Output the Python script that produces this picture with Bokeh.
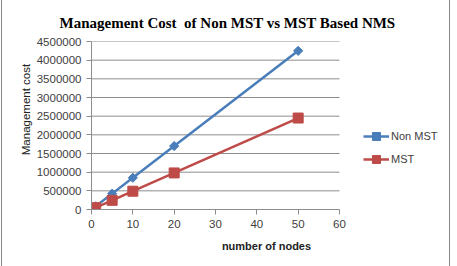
from bokeh.plotting import figure
from bokeh.embed import file_html
from bokeh.resources import INLINE
from bokeh.models import Legend, LegendItem, FixedTicker, BasicTickFormatter, Range1d, Title

nodes = [1, 5, 10, 20, 50]
non_mst = [85000, 425000, 850000, 1700000, 4250000]
mst = [49000, 245000, 490000, 980000, 2450000]
x_ticks = [0, 10, 20, 30, 40, 50, 60]
y_ticks = [0, 500000, 1000000, 1500000, 2000000, 2500000, 3000000, 3500000, 4000000, 4500000]
title_text = "Management Cost \u00a0of Non MST vs MST Based NMS"

BLUE = "#4A7EBB"
RED = "#BE4B48"
GRID = "#8C8C8C"
TXT = "#404040"

W, H = 449, 266
LEFT, RIGHT, TOP, BOTTOM = 89, 10, 41, 57
PLOT_W = 248  # pixel width of the 0..60 data span
frame_w = W - LEFT - RIGHT
x_end = x_ticks[-1] * frame_w / PLOT_W

p = figure(width=W, height=H, output_backend="svg", toolbar_location=None,
           x_range=Range1d(x_ticks[0], x_end), y_range=Range1d(y_ticks[0], y_ticks[-1]),
           min_border_left=LEFT, min_border_right=RIGHT, min_border_top=TOP, min_border_bottom=BOTTOM)
p.styles = {"margin-left": "1px", "border-left": "1px solid #888888", "border-right": "1px solid #888888"}
p.outline_line_color = None
p.background_fill_color = "white"
p.border_fill_color = "white"

p.xgrid.grid_line_color = None
p.ygrid.grid_line_color = None
# horizontal gridlines limited to the data span
p.segment(x0=[x_ticks[0]] * len(y_ticks), x1=[x_ticks[-1]] * len(y_ticks),
          y0=y_ticks, y1=y_ticks, line_color=GRID, line_width=1)

for ax in (p.xaxis[0], p.yaxis[0]):
    ax.axis_line_color = GRID
    ax.major_tick_line_color = GRID
    ax.major_tick_out = 5
    ax.major_tick_in = 0
    ax.minor_tick_line_color = None
    ax.major_label_text_font = "Liberation Sans"
    ax.major_label_text_font_size = "11.5px"
    ax.major_label_text_color = TXT
    ax.major_label_standoff = 5
    ax.axis_label_text_font = "Liberation Sans"
    ax.axis_label_text_color = "#222222"

p.xaxis.bounds = (x_ticks[0], x_ticks[-1])
p.xaxis.ticker = FixedTicker(ticks=x_ticks)
p.yaxis.ticker = FixedTicker(ticks=y_ticks)
p.yaxis.formatter = BasicTickFormatter(use_scientific=False)
p.xaxis.axis_label = "number of nodes"
p.xaxis.axis_label_text_font_style = "bold"
p.xaxis.axis_label_text_font_size = "11px"
p.xaxis.axis_label_standoff = 9
p.yaxis.axis_label = "\u00a0" * 10 + "Management cost"
p.yaxis.axis_label_text_font_style = "normal"
p.yaxis.axis_label_text_font_size = "11.5px"
p.yaxis.axis_label_standoff = 2

l1 = p.line(nodes, non_mst, line_color=BLUE, line_width=2.5)
s1 = p.scatter(nodes, non_mst, marker="square", angle=0.785398, size=6.5,
               fill_color=BLUE, line_color=BLUE)
l2 = p.line(nodes, mst, line_color=RED, line_width=2.5)
s2 = p.scatter(nodes, mst, marker="square", size=10, fill_color=RED, line_color=RED)

legend = Legend(items=[LegendItem(label="Non MST", renderers=[l1, s1]),
                       LegendItem(label="MST", renderers=[l2, s2])],
                location=(272, 40), orientation="vertical",
                background_fill_alpha=0, border_line_color=None,
                label_text_font="Liberation Sans", label_text_font_size="11px",
                label_text_color=TXT, glyph_width=26, glyph_height=20,
                spacing=3, label_standoff=2, padding=0, margin=0)
p.add_layout(legend, "center")

title = Title(text=title_text, align="left", offset=-32, standoff=22,
              text_font="Liberation Serif", text_font_style="bold", text_font_size="15px",
              text_color="black")
p.add_layout(title, "above")

open("out.html", "w").write(file_html(p, INLINE))
